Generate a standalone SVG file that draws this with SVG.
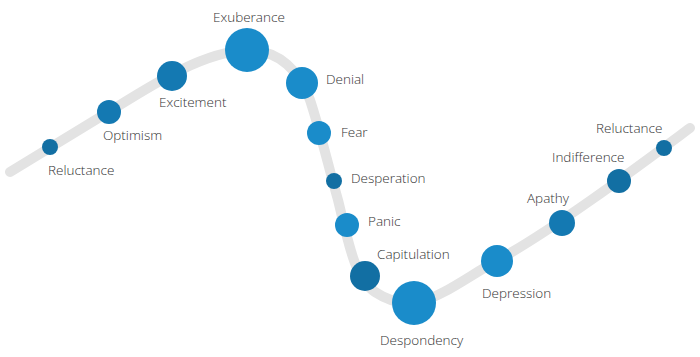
<svg xmlns="http://www.w3.org/2000/svg" width="700" height="357" viewBox="0 0 700 357">
<style>
.track{fill:none;stroke:#e3e3e3;stroke-width:10;stroke-linecap:round;stroke-linejoin:round}
.d{fill:#126fa3}
.m{fill:#1479b2}
.b{fill:#1a8cca}
text{font-family:"Open Sans","Liberation Sans",sans-serif;font-size:13.5px;font-weight:300;fill:#333333}
</style>
<rect width="700" height="357" fill="#ffffff"/>
<g id="connectors">
<path class="track" d="M10,172 L115,108 C160,80 205,52 247,50 C280,50 300,72 310,100 C320,130 328,165 338,200 C348,240 354,278 375,292 C390,302 405,305 420,302 C445,295 470,275 500,259 C560,225 640,165 690,128"/>
</g>
<g id="reluctance1"><circle class="d" cx="50" cy="147" r="8"/><text x="48" y="175">Reluctance</text></g>
<g id="optimism"><circle class="m" cx="109" cy="112" r="12"/><text x="103" y="140">Optimism</text></g>
<g id="excitement"><circle class="m" cx="172" cy="76" r="15"/><text x="159" y="107">Excitement</text></g>
<g id="exuberance"><circle class="b" cx="247" cy="50" r="22"/><text x="213" y="22">Exuberance</text></g>
<g id="denial"><circle class="b" cx="302" cy="83" r="16"/><text x="326" y="84">Denial</text></g>
<g id="fear"><circle class="b" cx="319" cy="133" r="12"/><text x="341" y="137">Fear</text></g>
<g id="desperation"><circle class="d" cx="334" cy="181" r="8"/><text x="351" y="183">Desperation</text></g>
<g id="panic"><circle class="b" cx="347" cy="225" r="12"/><text x="368" y="226">Panic</text></g>
<g id="capitulation"><circle class="d" cx="365" cy="276" r="15"/><text x="377" y="259">Capitulation</text></g>
<g id="despondency"><circle class="b" cx="414" cy="303" r="22"/><text x="380" y="345">Despondency</text></g>
<g id="depression"><circle class="b" cx="497" cy="261" r="16"/><text x="482" y="298">Depression</text></g>
<g id="apathy"><circle class="m" cx="562" cy="223" r="13"/><text x="527" y="203">Apathy</text></g>
<g id="indifference"><circle class="d" cx="619" cy="181" r="12"/><text x="552" y="162">Indifference</text></g>
<g id="reluctance2"><circle class="d" cx="664" cy="148" r="8"/><text x="596" y="133">Reluctance</text></g>
</svg>
